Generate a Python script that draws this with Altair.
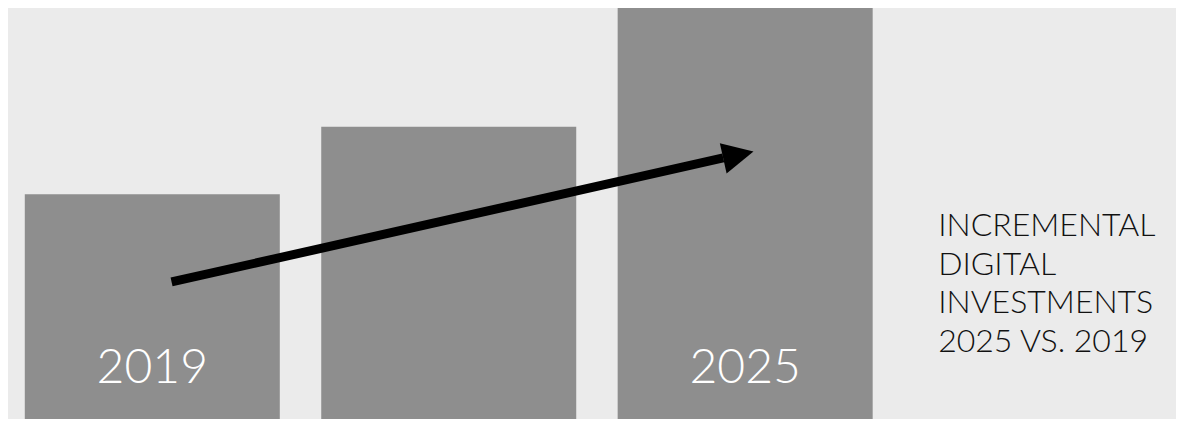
import altair as alt
import pandas as pd

# ---- data ----
bar_index = [0, 1, 2]
bar_values = [100, 129, 180]          # relative investment level (2019 = 100)
label_texts = ["2019", "2025"]
label_index = [0, 2]
label_y = [19, 19]
arrow_x = [0.065, 1.926]
arrow_y = [62.3, 115.6]
head_x = [1.977]
head_y = [116.85]
caption_lines = ["INCREMENTAL", "DIGITAL", "INVESTMENTS", "2025 VS. 2019"]
caption_x = [2.651]
caption_y = [82.0]

bars = pd.DataFrame({"i": bar_index, "v": bar_values})
labels = pd.DataFrame({"i": label_index, "y": label_y, "t": label_texts})
shaft = pd.DataFrame({"x": [arrow_x[0]], "y": [arrow_y[0]], "x2": [arrow_x[1]], "y2": [arrow_y[1]]})
head = pd.DataFrame({"x": head_x, "y": head_y})
caption = pd.DataFrame({"x": caption_x, "y": caption_y, "t": ["\n".join(caption_lines)]})

xs = alt.Scale(domain=[-0.4699, 3.4365], nice=False, zero=False)
ys = alt.Scale(domain=[3.44, 180], nice=False, zero=False)

bar_layer = alt.Chart(bars).mark_bar(size=255, color="#8e8e8e", clip=True).encode(
    x=alt.X("i:Q", scale=xs, axis=None),
    y=alt.Y("v:Q", scale=ys, axis=None),
    y2=alt.datum(0),
)

label_layer = alt.Chart(labels).mark_text(
    font="Lato", fontWeight=300, fontSize=48, color="white",
    align="center", baseline="alphabetic",
).encode(
    x=alt.X("i:Q", scale=xs, axis=None),
    y=alt.Y("y:Q", scale=ys, axis=None),
    text="t:N",
)

shaft_layer = alt.Chart(shaft).mark_rule(color="black", strokeWidth=9, strokeCap="butt").encode(
    x=alt.X("x:Q", scale=xs, axis=None),
    y=alt.Y("y:Q", scale=ys, axis=None),
    x2="x2:Q",
    y2="y2:Q",
)

head_layer = alt.Chart(head).mark_point(
    shape="M-1,-1L1,0L-1,1Z", size=961, filled=True, color="black",
    opacity=1, angle=347.4, strokeWidth=0,
).encode(
    x=alt.X("x:Q", scale=xs, axis=None),
    y=alt.Y("y:Q", scale=ys, axis=None),
)

caption_layer = alt.Chart(caption).mark_text(
    font="Lato", fontWeight=300, fontSize=32, color="#111111",
    align="left", baseline="alphabetic", lineBreak="\n", lineHeight=38.5,
).encode(
    x=alt.X("x:Q", scale=xs, axis=None),
    y=alt.Y("y:Q", scale=ys, axis=None),
    text="t:N",
)

chart = alt.layer(bar_layer, label_layer, shaft_layer, head_layer, caption_layer).properties(
    width=1168, height=411, padding=0, background="#ebebeb",
).configure_view(stroke=None)

chart.save("out.html", embed_options={"renderer": "svg", "actions": False})
